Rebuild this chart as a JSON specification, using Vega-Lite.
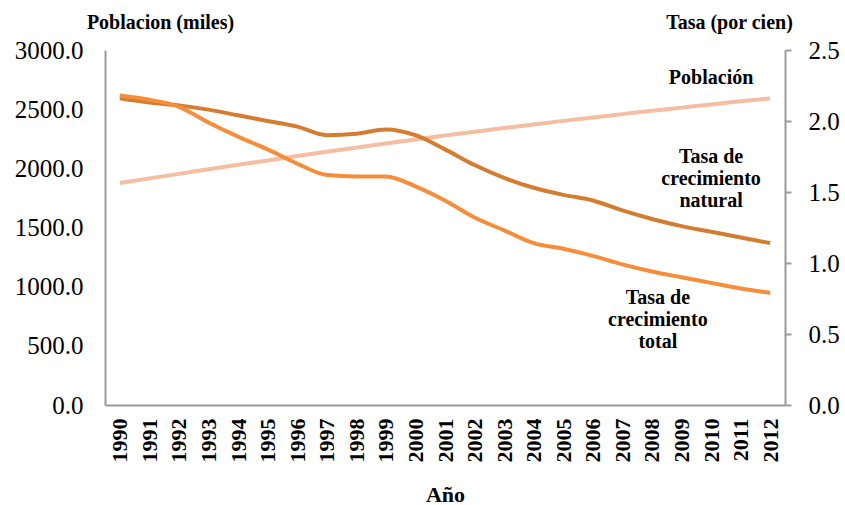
{
  "$schema": "https://vega.github.io/schema/vega-lite/v6.json",
  "width": 680,
  "height": 355,
  "autosize": {"type": "none"},
  "padding": {"left": 105, "top": 50, "right": 60, "bottom": 100},
  "background": "white",
  "view": {"stroke": null},
  "config": {
    "font": "Liberation Serif",
    "axis": {"grid": false, "domainColor": "#9a9a9a", "domainWidth": 2, "labelColor": "#000", "titleColor": "#000"}
  },
  "datasets": {
    "series": [
      {"year": 1990, "poblacion": 1876, "natural": 2.16, "total": 2.18},
      {"year": 1991, "poblacion": 1915, "natural": 2.13, "total": 2.15},
      {"year": 1992, "poblacion": 1953, "natural": 2.11, "total": 2.10},
      {"year": 1993, "poblacion": 1992, "natural": 2.08, "total": 1.99},
      {"year": 1994, "poblacion": 2030, "natural": 2.04, "total": 1.89},
      {"year": 1995, "poblacion": 2067, "natural": 2.00, "total": 1.80},
      {"year": 1996, "poblacion": 2104, "natural": 1.96, "total": 1.70},
      {"year": 1997, "poblacion": 2140, "natural": 1.90, "total": 1.62},
      {"year": 1998, "poblacion": 2175, "natural": 1.91, "total": 1.61},
      {"year": 1999, "poblacion": 2210, "natural": 1.94, "total": 1.61},
      {"year": 2000, "poblacion": 2244, "natural": 1.90, "total": 1.54},
      {"year": 2001, "poblacion": 2277, "natural": 1.80, "total": 1.44},
      {"year": 2002, "poblacion": 2309, "natural": 1.69, "total": 1.32},
      {"year": 2003, "poblacion": 2340, "natural": 1.60, "total": 1.23},
      {"year": 2004, "poblacion": 2371, "natural": 1.53, "total": 1.14},
      {"year": 2005, "poblacion": 2401, "natural": 1.48, "total": 1.10},
      {"year": 2006, "poblacion": 2430, "natural": 1.44, "total": 1.05},
      {"year": 2007, "poblacion": 2458, "natural": 1.37, "total": 0.99},
      {"year": 2008, "poblacion": 2486, "natural": 1.31, "total": 0.94},
      {"year": 2009, "poblacion": 2513, "natural": 1.26, "total": 0.90},
      {"year": 2010, "poblacion": 2540, "natural": 1.22, "total": 0.86},
      {"year": 2011, "poblacion": 2566, "natural": 1.18, "total": 0.82},
      {"year": 2012, "poblacion": 2591, "natural": 1.14, "total": 0.79}
    ],
    "popLabel": [
      {"year": 2010.0, "poblacion": 2763, "label": "Población"}
    ],
    "rateLabels": [
      {"year": 2010.0, "natural": 1.745, "label": "Tasa de\ncrecimiento\nnatural"},
      {"year": 2008.2, "natural": 0.755, "label": "Tasa de\ncrecimiento\ntotal"}
    ]
  },
  "encoding": {
    "x": {
      "field": "year", "type": "quantitative",
      "scale": {"domain": [1989.5, 2012.5], "nice": false, "zero": false},
      "axis": {
        "values": [1990,1991,1992,1993,1994,1995,1996,1997,1998,1999,2000,2001,2002,2003,2004,2005,2006,2007,2008,2009,2010,2011,2012],
        "format": "d", "labelAngle": -90, "labelAlign": "right", "labelBaseline": "middle",
        "ticks": false, "tickSize": 0, "labelPadding": 13, "labelFontSize": 22, "labelFontWeight": "bold",
        "labelOverlap": false, "labelSeparation": 0, "labelBound": false, "labelFlush": false,
        "title": "Año", "titleFontSize": 22, "titleFontWeight": "bold", "titlePadding": 22
      }
    }
  },
  "layer": [
    {
      "layer": [
        {
          "data": {"name": "series"},
          "mark": {"type": "line", "color": "#F6BEA0", "strokeWidth": 4, "interpolate": "monotone"},
          "encoding": {
            "y": {
              "field": "poblacion", "type": "quantitative",
              "scale": {"domain": [0, 3000], "nice": false},
              "axis": {
                "orient": "left", "values": [0, 500, 1000, 1500, 2000, 2500, 3000], "format": ".1f",
                "ticks": false, "tickSize": 0, "labelPadding": 22, "labelFontSize": 25,
                "title": "Poblacion (miles)", "titleAngle": 0, "titleX": 55, "titleY": -28,
                "titleAlign": "center", "titleBaseline": "middle", "titleFontSize": 20, "titleFontWeight": "bold"
              }
            }
          }
        },
        {
          "data": {"name": "popLabel"},
          "mark": {"type": "text", "fontSize": 20, "fontWeight": "bold", "align": "center", "baseline": "middle", "color": "#000"},
          "encoding": {
            "y": {"field": "poblacion", "type": "quantitative"},
            "text": {"field": "label"}
          }
        }
      ]
    },
    {
      "layer": [
        {
          "data": {"name": "series"},
          "mark": {"type": "line", "color": "#D47D30", "strokeWidth": 4, "interpolate": "monotone"},
          "encoding": {
            "y": {
              "field": "natural", "type": "quantitative",
              "scale": {"domain": [0, 2.5], "nice": false},
              "axis": {
                "orient": "right", "values": [0, 0.5, 1, 1.5, 2, 2.5], "format": ".1f",
                "ticks": true, "tickSize": 6, "tickColor": "#9a9a9a", "tickWidth": 2, "labelPadding": 17, "labelFontSize": 25,
                "title": "Tasa (por cien)", "titleAngle": 0, "titleX": -56, "titleY": -28,
                "titleAlign": "center", "titleBaseline": "middle", "titleFontSize": 20, "titleFontWeight": "bold"
              }
            }
          }
        },
        {
          "data": {"name": "series"},
          "mark": {"type": "line", "color": "#F68D3A", "strokeWidth": 4, "interpolate": "monotone"},
          "encoding": {
            "y": {"field": "total", "type": "quantitative"}
          }
        },
        {
          "data": {"name": "rateLabels"},
          "mark": {"type": "text", "fontSize": 20, "fontWeight": "bold", "align": "center", "baseline": "middle", "lineBreak": "\n", "lineHeight": 22, "color": "#000"},
          "encoding": {
            "y": {"field": "natural", "type": "quantitative"},
            "text": {"field": "label"}
          }
        }
      ]
    }
  ],
  "resolve": {"scale": {"y": "independent"}}
}
